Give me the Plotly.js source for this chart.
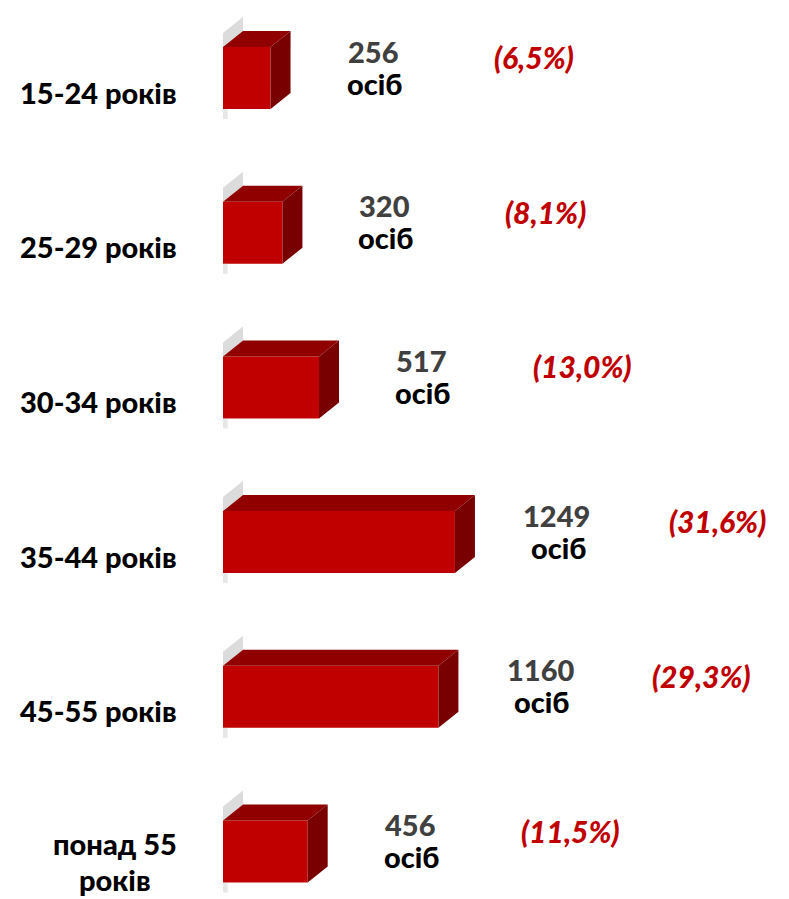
<!DOCTYPE html>
<html>
<head>
<meta charset="utf-8">
<script src="https://cdn.plot.ly/plotly-3.0.1.min.js"></script>
<style>html,body{margin:0;padding:0;background:#fff}#chart{width:789px;height:899px}</style>
</head>
<body>
<div id="chart"></div>
<script>
const categories = ["15-24 років", "25-29 років", "30-34 років", "35-44 років", "45-55 років", "понад 55<br>років"];
const values = [256, 320, 517, 1249, 1160, 456];
const percents = ["6,5%", "8,1%", "13,0%", "31,6%", "29,3%", "11,5%"];
const unitLabel = "осіб";

const FONT = "Lato, 'Open Sans', sans-serif";
const ML = 223, W = 789, H = 899;
const pxPerUnit = 0.1857;
const xMax = (W - ML) / pxPerUnit;
const pxPerCat = 154.7;
const yTop = -78 / pxPerCat;
const yBot = yTop + H / pxPerCat;
const barW = 62 / pxPerCat;
const dx = 20 / pxPerUnit;
const dy = 16 / pxPerCat;

const traces = [];
const idx = values.map((v, i) => i);

// soft shadow behind each bar
idx.forEach(i => {
  const t = i - barW / 2;
  const ext = 14 / pxPerCat;
  traces.push({type: "scatter", mode: "lines", x: [0, 0, dx, dx, 0], y: [t, t - ext, t - dy - ext, t - dy, t],
    fill: "toself", fillcolor: "rgba(185,185,185,0.5)", line: {width: 0}, hoverinfo: "skip", showlegend: false});
  const b = i + barW / 2;
  traces.push({type: "scatter", mode: "lines", x: [0, 0, 25, 25, 0], y: [b, b + 10 / pxPerCat, b + 10 / pxPerCat, b, b],
    fill: "toself", fillcolor: "rgba(185,185,185,0.35)", line: {width: 0}, hoverinfo: "skip", showlegend: false});
});

// front faces
traces.push({type: "bar", orientation: "h", x: values, y: idx, width: barW,
  marker: {color: "#C00000", line: {width: 0}}, hoverinfo: "skip", showlegend: false});

// top and side faces
values.forEach((v, i) => {
  const t = i - barW / 2, b = i + barW / 2;
  traces.push({type: "scatter", mode: "lines", x: [0, dx, v + dx, v, 0], y: [t, t - dy, t - dy, t, t],
    fill: "toself", fillcolor: "#900000", line: {width: 0}, hoverinfo: "skip", showlegend: false});
  traces.push({type: "scatter", mode: "lines", x: [v, v + dx, v + dx, v, v], y: [t, t - dy, b - dy, b, t],
    fill: "toself", fillcolor: "#780000", line: {width: 0}, hoverinfo: "skip", showlegend: false});
});

const annotations = [];
const LINE = 36;
categories.forEach((c, i) => {
  const lines = c.split("<br>");
  const n = lines.length;
  const centerDown = n > 1 ? 10 : 14;
  lines.forEach((ln, k) => {
    const down = centerDown + (k - (n - 1) / 2) * LINE;
    annotations.push({xref: "paper", yref: "y", x: 0, xshift: -45 - (n > 1 ? 63 : 0), y: i, yshift: -down,
      xanchor: n > 1 ? "center" : "right", yanchor: "middle", borderpad: 0,
      text: ln, showarrow: false, font: {family: FONT, size: 29, color: "#000", weight: 900}});
  });
});
values.forEach((v, i) => {
  annotations.push({xref: "x", yref: "y", x: v, xshift: 102, y: i, yshift: 27, xanchor: "center", yanchor: "middle",
    text: String(v), showarrow: false, font: {family: FONT, size: 29, color: "#404040", weight: 900}});
  annotations.push({xref: "x", yref: "y", x: v, xshift: 104, y: i, yshift: -5, xanchor: "center", yanchor: "middle",
    text: unitLabel, showarrow: false, font: {family: FONT, size: 29, color: "#000", weight: 900}});
  annotations.push({xref: "x", yref: "y", x: v, xshift: 263, y: i, yshift: 21, xanchor: "center", yanchor: "middle",
    text: "<i>(" + percents[i] + ")</i>", showarrow: false,
    font: {family: FONT, size: 30, color: "#C00000", weight: 900, style: "italic"}});
});

const layout = {
  width: W, height: H,
  margin: {l: ML, r: 0, t: 0, b: 0},
  paper_bgcolor: "#fff", plot_bgcolor: "#fff",
  xaxis: {range: [0, xMax], visible: false, fixedrange: true},
  yaxis: {range: [yBot, yTop], visible: false, fixedrange: true},
  showlegend: false,
  annotations: annotations
};

Plotly.newPlot("chart", traces, layout, {staticPlot: true});
</script>
</body>
</html>
